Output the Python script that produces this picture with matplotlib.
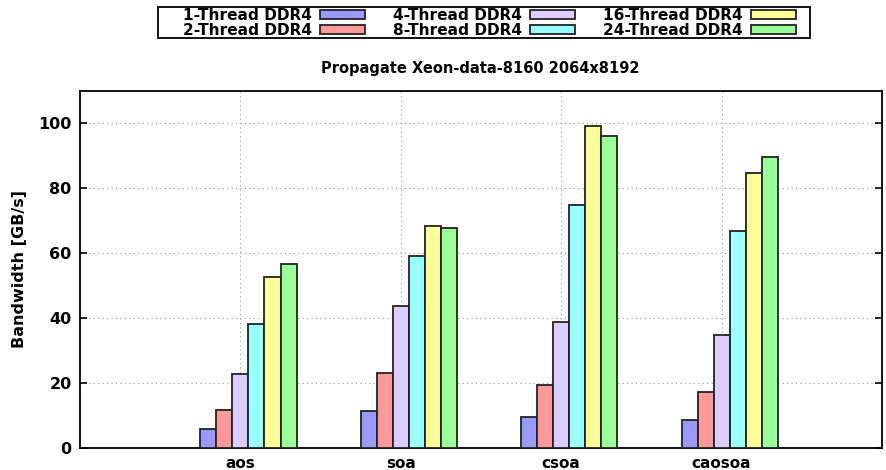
import matplotlib.pyplot as plt
from matplotlib.patches import Rectangle
import numpy as np

categories = ['aos', 'soa', 'csoa', 'caosoa']
series = ['1-Thread DDR4', '2-Thread DDR4', '4-Thread DDR4',
          '8-Thread DDR4', '16-Thread DDR4', '24-Thread DDR4']
t1 = [5.8, 11.5, 9.6, 8.6]
t2 = [11.6, 23.0, 19.4, 17.2]
t4 = [22.9, 43.9, 38.7, 34.9]
t8 = [38.2, 59.2, 75.0, 66.9]
t16 = [52.7, 68.4, 99.1, 84.8]
t24 = [56.6, 67.8, 96.1, 89.6]
colors = ['#9999ff', '#ff9999', '#ddccff', '#99ffff', '#ffff99', '#99ff99']

W, H = 886, 470
fig = plt.figure(figsize=(W / 100, H / 100), dpi=100)
ax = fig.add_axes([80 / W, 22 / H, 802 / W, 357 / H])

x = np.arange(len(categories))
width = 0.1
handles = []
for i, (vals, name) in enumerate(zip([t1, t2, t4, t8, t16, t24], series)):
    b = ax.bar(x - 0.2 + i * width, vals, width, color=colors[i],
               edgecolor='#222222', linewidth=1.3, label=name, zorder=3)
    handles.append(b)

ax.set_xlim(-1, 4)
ax.set_ylim(0, 110)
ax.set_yticks(range(0, 101, 20))
ax.set_xticks(x)
ax.set_xticklabels(categories, fontweight='bold', fontsize=11)
for lab in ax.get_yticklabels():
    lab.set_fontweight('bold')
    lab.set_fontsize(11.5)
ax.tick_params(axis='y', direction='in', right=True, length=5, width=1.2, pad=6)
ax.tick_params(axis='x', length=0, pad=6)
ax.grid(True, linestyle=(0, (1, 3)), color='#999999', linewidth=0.8, zorder=0)
for s in ax.spines.values():
    s.set_linewidth(1.3)
ax.set_ylabel('Bandwidth [GB/s]', fontweight='bold', fontsize=11.5, labelpad=8)

fig.text(480 / W, 1 - 68 / H, 'Propagate Xeon-data-8160 2064x8192',
         ha='center', va='center', fontweight='bold', fontsize=10.5)

leg = fig.legend(handles=handles, ncol=3, loc='upper left',
                 bbox_to_anchor=(183 / W, 1 - 8 / H), markerfirst=False,
                 frameon=False, prop={'weight': 'bold', 'size': 11.1},
                 handlelength=2.9, handleheight=0.55, columnspacing=1.8,
                 labelspacing=0.02, borderpad=0, borderaxespad=0,
                 handletextpad=0.55)
# legend box
fig.patches.append(Rectangle((158 / W, 1 - 38 / H), 652 / W, 31 / H,
                             transform=fig.transFigure, fill=False,
                             edgecolor='black', linewidth=1.3))

fig.savefig('out.png', dpi=100)
